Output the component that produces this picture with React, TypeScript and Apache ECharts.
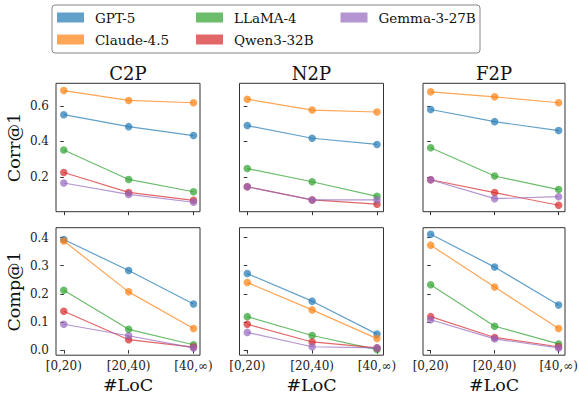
import React, { useEffect, useRef } from "react";
import * as echarts from "echarts";

const xLabels = ["[0,20)", "[20,40)", "[40,∞)"];
const models = ["GPT-5", "Claude-4.5", "LLaMA-4", "Qwen3-32B", "Gemma-3-27B"];
const colors = ["#1f77b4", "#ff7f0e", "#2ca02c", "#d62728", "#9467bd"];
const tasks = ["C2P", "N2P", "F2P"];
const rowLabels = ["Corr@1", "Comp@1"];

// Corr@1 per task, per model
const corrC2P = [
  [0.55, 0.483, 0.433],
  [0.685, 0.63, 0.617],
  [0.352, 0.187, 0.118],
  [0.226, 0.114, 0.07],
  [0.167, 0.103, 0.059],
];
const corrN2P = [
  [0.489, 0.418, 0.383],
  [0.637, 0.576, 0.565],
  [0.248, 0.174, 0.092],
  [0.146, 0.072, 0.048],
  [0.146, 0.072, 0.072],
];
const corrF2P = [
  [0.579, 0.511, 0.461],
  [0.678, 0.65, 0.617],
  [0.365, 0.206, 0.13],
  [0.185, 0.113, 0.042],
  [0.185, 0.079, 0.09],
];
// Comp@1 per task, per model
const compC2P = [
  [0.393, 0.283, 0.164],
  [0.388, 0.207, 0.077],
  [0.213, 0.074, 0.019],
  [0.138, 0.037, 0.011],
  [0.092, 0.051, 0.008],
];
const compN2P = [
  [0.272, 0.174, 0.057],
  [0.24, 0.143, 0.041],
  [0.119, 0.052, 0.002],
  [0.092, 0.029, 0.008],
  [0.063, 0.012, 0.008],
];
const compF2P = [
  [0.412, 0.295, 0.16],
  [0.373, 0.224, 0.077],
  [0.232, 0.085, 0.022],
  [0.119, 0.045, 0.012],
  [0.108, 0.04, 0.008],
];

const corrTicks = [0.2, 0.4, 0.6];
const compTicks = [0, 0.1, 0.2, 0.3, 0.4];

const FONT = "'DejaVu Serif', serif";

export default function App() {
  const ref = useRef<HTMLDivElement>(null);
  useEffect(() => {
    if (!ref.current) return;
    const chart = echarts.init(ref.current, undefined, { renderer: "svg" });
    const panelsData = [
      [corrC2P, corrN2P, corrF2P],
      [compC2P, compN2P, compF2P],
    ];
    const colLefts = [56, 239.5, 423];
    const colWidths = [144, 144, 142];
    const rowTops = [83.3, 227.7];
    const rowHeights = [128.4, 127.5];
    const yRanges = [
      [0.006, 0.726],
      [-0.018, 0.435],
    ];
    const yTicks = [corrTicks, compTicks];

    const grid: any[] = [];
    const xAxis: any[] = [];
    const yAxis: any[] = [];
    const series: any[] = [];
    let gi = 0;
    for (let r = 0; r < 2; r++) {
      for (let c = 0; c < 3; c++) {
        grid.push({
          left: colLefts[c],
          top: rowTops[r],
          width: colWidths[c],
          height: rowHeights[r],
          containLabel: false,
          outerBoundsMode: "none",
          show: true,
          borderColor: "#333",
          borderWidth: 1,
          backgroundColor: "transparent",
        });
        xAxis.push({
          type: "value",
          gridIndex: gi,
          min: -0.12,
          max: 2.1,
          axisLine: { show: false },
          splitLine: { show: false },
          axisTick: {
            show: true,
            inside: false,
            length: 3.5,
            customValues: [0, 1, 2],
            lineStyle: { color: "#333", width: 1 },
          },
          axisLabel: {
            show: r === 1,
            customValues: [0, 1, 2],
            formatter: (v: number) => xLabels[Math.round(v)] ?? "",
            fontFamily: FONT,
            fontSize: 12,
            color: "#222",
            margin: 5,
            align: "center",
            verticalAlign: "top",
            hideOverlap: false,
          },
          name: r === 1 ? "#LoC" : "",
          nameLocation: "middle",
          nameGap: 21,
          nameTextStyle: { fontFamily: FONT, fontSize: 17.5, color: "#111" },
        });
        yAxis.push({
          type: "value",
          gridIndex: gi,
          min: yRanges[r][0],
          max: yRanges[r][1],
          axisLine: { show: false },
          splitLine: { show: false },
          axisTick: {
            show: true,
            inside: false,
            length: 3.5,
            customValues: yTicks[r],
            lineStyle: { color: "#333", width: 1 },
          },
          axisLabel: {
            show: c === 0,
            customValues: yTicks[r],
            formatter: (v: number) => v.toFixed(1),
            fontFamily: FONT,
            fontSize: 12,
            color: "#222",
            margin: 7,
            align: "right",
            verticalAlign: "middle",
          },
          name: c === 0 ? rowLabels[r] : "",
          nameLocation: "middle",
          nameGap: 33,
          nameTextStyle: { fontFamily: FONT, fontSize: 17.5, color: "#111" },
        });
        const data = panelsData[r][c];
        for (let m = 0; m < models.length; m++) {
          series.push({
            type: "line",
            name: models[m],
            xAxisIndex: gi,
            yAxisIndex: gi,
            data: data[m].map((v, i) => [i, v]),
            symbol: "circle",
            symbolSize: 7.5,
            showSymbol: true,
            lineStyle: { color: colors[m], width: 1.2, opacity: 0.7 },
            itemStyle: { color: colors[m], opacity: 0.7, borderWidth: 0 },
            emphasis: { disabled: true },
            z: 2 + m,
          });
        }
        gi++;
      }
    }

    const legendCols = [
      { left: 57, names: [models[0], models[1]] },
      { left: 196, names: [models[2], models[3]] },
      { left: 340.5, names: [models[4]] },
    ];
    const legend = legendCols.map((lc) => ({
      left: lc.left,
      top: 9.5,
      orient: "vertical",
      padding: 0,
      itemGap: 6,
      itemWidth: 27,
      itemHeight: 10,
      icon: "rect",
      data: lc.names.map((n) => ({
        name: n,
        itemStyle: { color: colors[models.indexOf(n)], opacity: 0.7 },
      })),
      selectedMode: false,
      textStyle: {
        fontFamily: FONT,
        fontSize: 13.5,
        color: "#111",
        lineHeight: 16,
        padding: [0, 0, 0, 6],
      },
    }));

    const graphic: any[] = [
      {
        type: "rect",
        shape: { x: 52, y: 5, width: 428, height: 48, r: 3 },
        style: { fill: "#fff", stroke: "#888", lineWidth: 1 },
        z: -1,
      },
    ];
    for (let c = 0; c < 3; c++) {
      graphic.push({
        type: "text",
        x: colLefts[c] + colWidths[c] / 2,
        y: 73,
        style: {
          text: tasks[c],
          align: "center",
          verticalAlign: "middle",
          fontFamily: FONT,
          fontSize: 18,
          fill: "#111",
        },
      });
    }

    chart.setOption({
      animation: false,
      textStyle: { fontFamily: FONT },
      grid,
      xAxis,
      yAxis,
      series,
      legend,
      graphic,
    });
    return () => chart.dispose();
  }, []);
  return (
    <div
      ref={ref}
      style={{ position: "fixed", left: 0, top: 0, width: 579, height: 396, background: "#fff" }}
    />
  );
}
